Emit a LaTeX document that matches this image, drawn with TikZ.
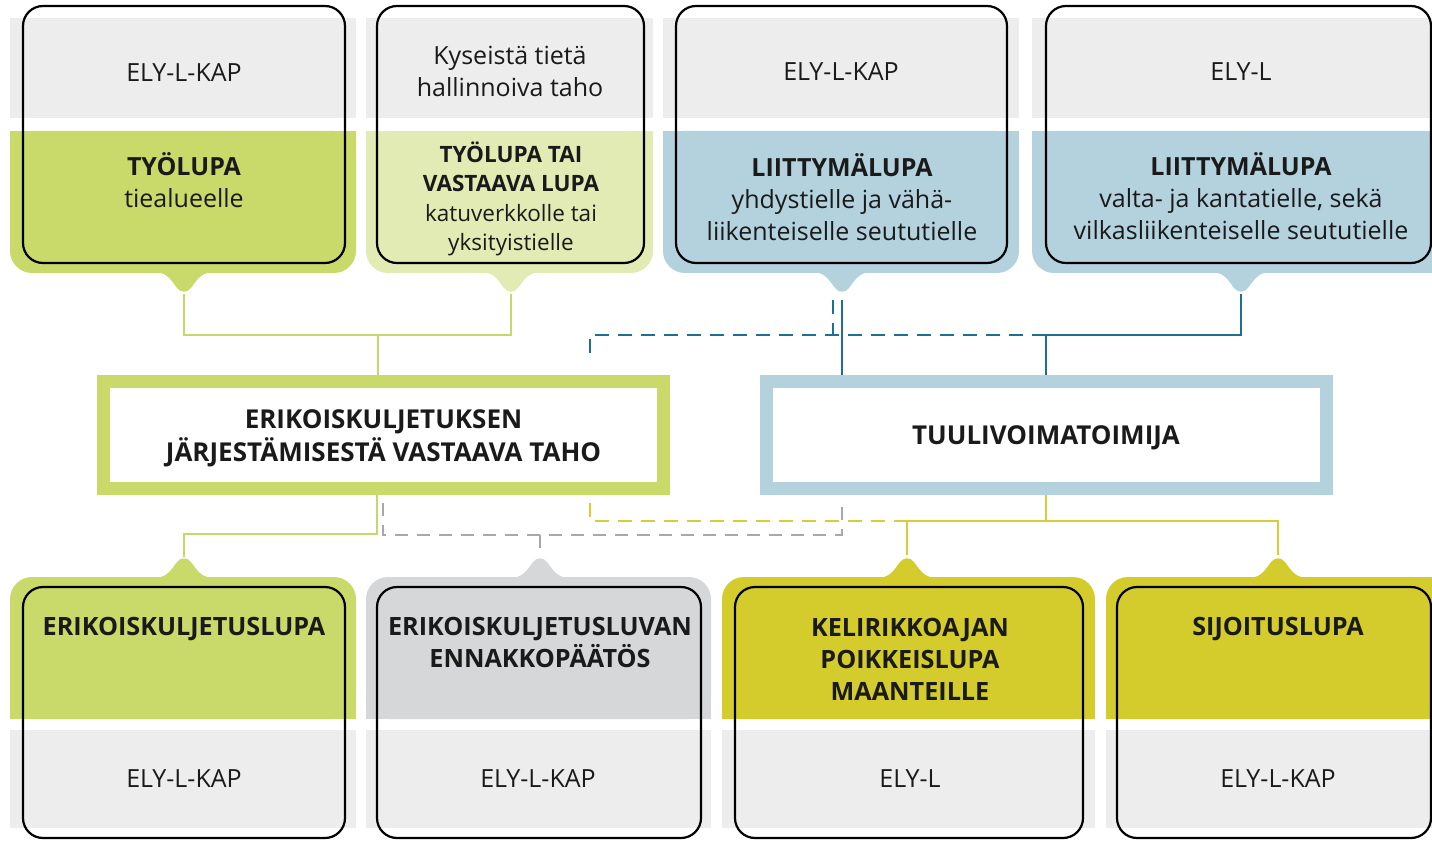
\documentclass[tikz,border=0pt]{standalone}
\usepackage{fontspec}
\setmainfont{Open Sans}
\definecolor{hdr}{HTML}{EDEDED}
\definecolor{cgreen}{HTML}{C9DA6B}
\definecolor{clgreen}{HTML}{E1EBB3}
\definecolor{cblue}{HTML}{B3D2DE}
\definecolor{colive}{HTML}{D4CC2C}
\definecolor{cgray}{HTML}{D6D7D9}
\definecolor{lgreen}{HTML}{C5D86D}
\definecolor{lblue}{HTML}{1D6F93}
\definecolor{lyellow}{HTML}{D6CD38}
\definecolor{lgray}{HTML}{A8A8A8}
\definecolor{ink}{HTML}{1A1A1A}
\newcommand\TopCard[6]{%
  \fill[hdr] (#1,18) rectangle (#2,118);
  \fill[#6, rounded corners=22pt] (#1,131) rectangle (#2,273);
  \fill[#6] (#1,131) rectangle (#2,220);
  \fill[#6] ({#5-32},272) .. controls ({#5-18},272) and ({#5-15},277) .. ({#5-7},288)
     .. controls ({#5-3},293) and ({#5+3},293) .. ({#5+7},288)
     .. controls ({#5+15},277) and ({#5+18},272) .. ({#5+32},272) -- cycle;
  \draw[outl] (#3,6) rectangle (#4,263);
}
\newcommand\BotCard[6]{%
  \fill[hdr] (#1,730) rectangle (#2,828);
  \fill[#6, rounded corners=22pt] (#1,577) rectangle (#2,719);
  \fill[#6] (#1,640) rectangle (#2,719);
  \fill[#6] ({#5-32},578) .. controls ({#5-18},578) and ({#5-15},573) .. ({#5-7},562)
     .. controls ({#5-3},557) and ({#5+3},557) .. ({#5+7},562)
     .. controls ({#5+15},573) and ({#5+18},578) .. ({#5+32},578) -- cycle;
  \draw[outl] (#3,587) rectangle (#4,838);
}
\begin{document}
\begin{tikzpicture}[x=1pt,y=-1pt,
  outl/.style={draw=black, line width=2.2pt, rounded corners=20pt},
  txt/.style={align=center, text=ink, inner sep=0pt, font=\fontsize{25}{32}\selectfont,
    execute at begin node={\rule{0pt}{30pt}},
    execute at end node={\rule[-6pt]{0pt}{6pt}}},
  btxt/.style={txt, font=\bfseries\fontsize{25.2}{32}\selectfont},
  mbox/.style={txt, line width=13pt, minimum width=560pt, minimum height=107pt,
    fill=white, font=\bfseries\fontsize{26}{33}\selectfont},
  gline/.style={draw=lgreen, line width=2.8pt},
  bline/.style={draw=lblue, line width=2.8pt},
  bdash/.style={bline, dash pattern=on 14pt off 9pt},
  yline/.style={draw=lyellow, line width=2.8pt},
  ydash/.style={yline, dash pattern=on 14pt off 9pt},
  gdash/.style={draw=lgray, line width=2.5pt, dash pattern=on 13pt off 9pt}]
\useasboundingbox (0,0) rectangle (1432,842);
\clip (0,0) rectangle (1432,842);

% top cards
\TopCard{10}{356}{23}{345}{184}{cgreen}
\TopCard{366}{653}{377}{644}{511}{clgreen}
\TopCard{663}{1019}{676}{1007}{842}{cblue}
\TopCard{1032}{1460}{1046}{1431}{1241}{cblue}

% bottom cards
\BotCard{10}{356}{23}{345}{184}{cgreen}
\BotCard{366}{711}{377}{701}{540}{cgray}
\BotCard{722}{1095}{735}{1083}{907}{colive}
\BotCard{1106}{1460}{1117}{1431}{1278}{colive}

% top texts
\node[txt] (t1a) at (184,70) {ELY-L-KAP};
\node[txt] (t1b) at (184,183) {\textbf{TYÖLUPA}\\tiealueelle};
\node[txt] (t2a) at (510,74) {Kyseistä tietä\\hallinnoiva taho};
\node[txt, font=\fontsize{22.5}{29.5}\selectfont] (t2b) at (511,199)
  {\textbf{TYÖLUPA TAI}\\\textbf{VASTAAVA LUPA}\\katuverkkolle tai\\yksityistielle};
\node[txt] (t3a) at (841,69) {ELY-L-KAP};
\node[txt] (t3b) at (842,200) {\textbf{LIITTYMÄLUPA}\\yhdystielle ja vähä-\\liikenteiselle seututielle};
\node[txt] (t4a) at (1241,69) {ELY-L};
\node[txt] (t4b) at (1241,199) {\textbf{LIITTYMÄLUPA}\\valta- ja kantatielle, sekä\\vilkasliikenteiselle seututielle};

% middle boxes
\node[mbox, draw=cgreen] (jv) at (383.5,435) {\rule{0pt}{26.6pt}ERIKOISKULJETUKSEN\\JÄRJESTÄMISESTÄ VASTAAVA TAHO};
\node[mbox, draw=cblue, text depth=12pt] (tv) at (1046,435) {TUULIVOIMATOIMIJA};

% bottom texts
\node[btxt] (b1a) at (184,623) {ERIKOISKULJETUSLUPA};
\node[txt] (b1b) at (184,775) {ELY-L-KAP};
\node[btxt] (b2a) at (540,645) {ERIKOISKULJETUSLUVAN\\ENNAKKOPÄÄTÖS};
\node[txt] (b2b) at (538,775) {ELY-L-KAP};
\node[btxt] (b3a) at (910,662) {KELIRIKKOAJAN\\POIKKEISLUPA\\MAANTEILLE};
\node[txt] (b3b) at (910,775) {ELY-L};
\node[btxt] (b4a) at (1278,623) {SIJOITUSLUPA};
\node[txt] (b4b) at (1278,775) {ELY-L-KAP};

% connector points
\coordinate (p1) at (184,294);
\coordinate (p2) at (511,294);
\coordinate (p3) at (842,300);
\coordinate (p3d) at (833,300);
\coordinate (p4) at (1241,294);
\coordinate (jt) at (378,335);
\coordinate (jb4) at (1046,335);
\coordinate (dle) at (590,362);

\draw[gline] (p1) |- (jt) -| (p2);
\draw[gline] (jt) -- (jt |- jv.north);
\draw[bline] (p4) |- (jb4) -- (tv.north);
\draw[bline] (p3) -- (p3 |- tv.north);
\draw[bdash] (jb4) -| (dle);
\draw[bdash] (p3d) -- (p3d |- jb4);

\coordinate (q1) at (184,557);
\coordinate (q2) at (540,553);
\coordinate (q3) at (907,555);
\coordinate (q4) at (1278,555);
\coordinate (jg1) at (377,534);
\coordinate (gd1) at (383,503);
\coordinate (gd2) at (842,500);
\coordinate (jg) at (540,535);
\coordinate (jy) at (1046,521);
\coordinate (yd) at (590,503);

\draw[gline] (jv.south -| jg1) -- (jg1) -| (q1);
\draw[gdash] (gd1) |- (jg) -| (gd2);
\draw[gdash] (jg) -- (q2);
\draw[yline] (tv.south) -- (jy);
\draw[yline] (q3) |- (jy) -| (q4);
\draw[ydash] (yd) |- (q3 |- jy);
\end{tikzpicture}
\end{document}
